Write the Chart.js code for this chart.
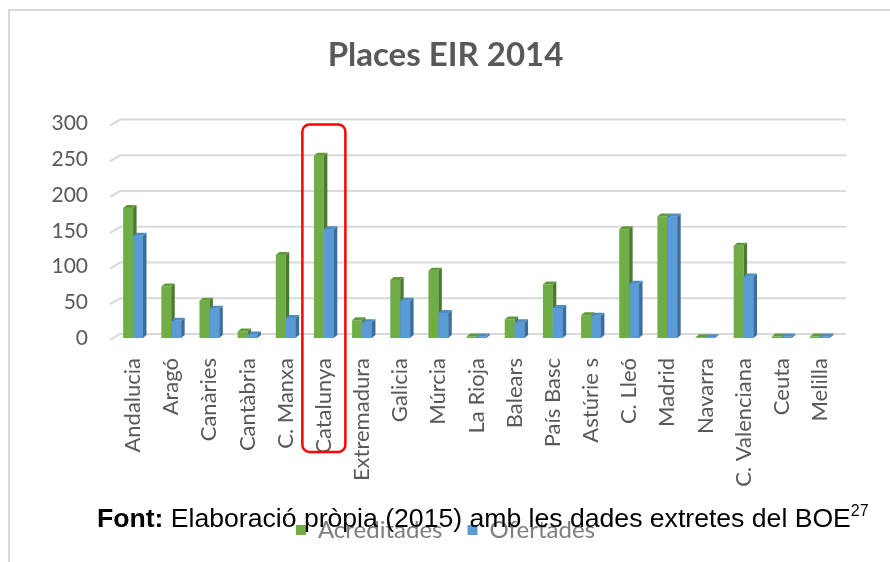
<!DOCTYPE html>
<html>
<head>
<meta charset="utf-8">
<title>Places EIR 2014</title>
<script src="https://cdn.jsdelivr.net/npm/chart.js@4"></script>
<style>
  html, body { margin: 0; padding: 0; background: #fff; overflow: hidden; }
  #wrap { position: relative; width: 890px; height: 562px; }
  #frame {
    position: absolute; left: 8px; top: 9px; right: -4px; bottom: -4px;
    border-left: 2px solid #d9d9d9; border-top: 2px solid #d9d9d9;
  }
  #chart { position: absolute; left: 0; top: 0; }
  #source {
    position: absolute; left: 97px; top: 505px; white-space: nowrap;
    font-family: "Liberation Sans", Arial, sans-serif; font-size: 26.6px;
    line-height: 1; color: #000;
  }
  #source sup { font-size: 16px; vertical-align: 11px; line-height: 0; }
</style>
</head>
<body>
<div id="wrap">
  <div id="frame"></div>
  <canvas id="chart" width="890" height="562"></canvas>
  <div id="source"><b>Font:</b> Elaboració pròpia (2015) amb les dades extretes del BOE<sup>27</sup></div>
</div>
<script>
// data
const categories = [
  "Andalucia", "Aragó", "Canàries", "Cantàbria", "C. Manxa", "Catalunya",
  "Extremadura", "Galicia", "Múrcia", "La Rioja", "Balears", "País Basc",
  "Astúrie s", "C. Lleó", "Madrid", "Navarra", "C. Valenciana", "Ceuta", "Melilla",
];
const acreditades = [182, 72, 52, 9, 116, 255, 25, 81, 94, 2, 26, 75, 32, 152, 170, 1, 129, 2, 2];
const ofertades = [143, 24, 41, 5, 28, 152, 22, 52, 35, 2, 22, 42, 31, 76, 170, 1, 86, 2, 2];
const yMax = 300;
const yStep = 50;
const highlighted = "Catalunya";

Chart.defaults.font.family = "Lato, 'Open Sans', sans-serif";
Chart.defaults.color = "#595959";

const frontColors = ["#70ad47", "#5b9bd5"];
const sideColors = ["#4b7a2e", "#3b6e9e"];
const topColors = ["#5f9a3b", "#4f8cc4"];

// back-wall gridlines, shifted like the 3D chart in the reference
const wallGrid = {
  id: "wallGrid",
  beforeDatasetsDraw(chart) {
    const { ctx, chartArea, scales } = chart;
    ctx.save();
    ctx.strokeStyle = "#d9d9d9";
    ctx.lineWidth = 2;
    scales.y.ticks.forEach((t) => {
      const y = scales.y.getPixelForValue(t.value);
      ctx.beginPath();
      ctx.moveTo(chartArea.left - 4, y + 2);
      ctx.lineTo(chartArea.left + 6, y - 4);
      ctx.lineTo(chartArea.right + 7, y - 4);
      ctx.stroke();
    });
    ctx.restore();
  },
};

// side and top faces; the blue front is repainted over the green side face
const columns3d = {
  id: "columns3d",
  afterDatasetsDraw(chart) {
    const { ctx } = chart;
    const d = 3.5, dy = 3;
    const metas = [chart.getDatasetMeta(0), chart.getDatasetMeta(1)];
    ctx.save();
    categories.forEach((_, i) => {
      metas.forEach((meta, k) => {
        const { x, y, base, width } = meta.data[i].getProps(["x", "y", "base", "width"], true);
        const l = x - width / 2, r = x + width / 2;
        if (k > 0) {
          ctx.fillStyle = frontColors[k];
          ctx.fillRect(l, y, width, base - y);
        }
        ctx.fillStyle = sideColors[k];
        ctx.beginPath();
        ctx.moveTo(r, y);
        ctx.lineTo(r + d, y - dy);
        ctx.lineTo(r + d, base - dy);
        ctx.lineTo(r, base);
        ctx.closePath();
        ctx.fill();
        ctx.fillStyle = topColors[k];
        ctx.beginPath();
        ctx.moveTo(l, y);
        ctx.lineTo(l + d, y - dy);
        ctx.lineTo(r + d, y - dy);
        ctx.lineTo(r, y);
        ctx.closePath();
        ctx.fill();
      });
    });
    ctx.restore();
  },
};

// red rounded box around the highlighted region
const highlightBox = {
  id: "highlightBox",
  afterDraw(chart) {
    const { ctx, chartArea, scales } = chart;
    const cx = scales.x.getPixelForValue(categories.indexOf(highlighted));
    const top = scales.y.getPixelForValue(yMax) + 1;
    const bottom = chartArea.bottom + 114;
    ctx.save();
    ctx.strokeStyle = "#ff0000";
    ctx.lineWidth = 2.5;
    ctx.beginPath();
    ctx.roundRect(cx - 21.5, top, 43, bottom - top, 7);
    ctx.stroke();
    ctx.restore();
  },
};

new Chart(document.getElementById("chart"), {
  type: "bar",
  data: {
    labels: categories,
    datasets: [
      { label: "Acreditades", data: acreditades, backgroundColor: frontColors[0], borderWidth: 0 },
      { label: "Ofertades", data: ofertades, backgroundColor: frontColors[1], borderWidth: 0 },
    ],
  },
  options: {
    responsive: false,
    animation: false,
    layout: { padding: { left: 52, right: 51, top: 0, bottom: 10 } },
    datasets: {
      bar: { barPercentage: 1, categoryPercentage: 0.52 },
    },
    plugins: {
      title: {
        display: true,
        text: "Places EIR 2014",
        color: "#595959",
        font: { size: 33, weight: "bold" },
        padding: { top: 36, bottom: 48 },
      },
      legend: {
        position: "bottom",
        labels: {
          color: "#7f7f7f",
          font: { size: 24 },
          boxWidth: 10,
          boxHeight: 10,
          padding: 25,
        },
      },
      tooltip: { enabled: false },
    },
    scales: {
      x: {
        grid: { display: false },
        border: { display: false },
        ticks: {
          color: "#595959",
          font: { size: 22 },
          minRotation: 90,
          maxRotation: 90,
          padding: 12,
          autoSkip: false,
        },
        afterFit: (s) => { s.height = 155; },
      },
      y: {
        min: 0,
        max: yMax,
        grid: { display: false, drawTicks: false },
        border: { display: false },
        ticks: {
          stepSize: yStep,
          color: "#595959",
          font: { size: 21 },
          padding: 26,
        },
        afterFit: (s) => { s.width = 62; },
      },
    },
  },
  plugins: [wallGrid, columns3d, highlightBox],
});
</script>
</body>
</html>
